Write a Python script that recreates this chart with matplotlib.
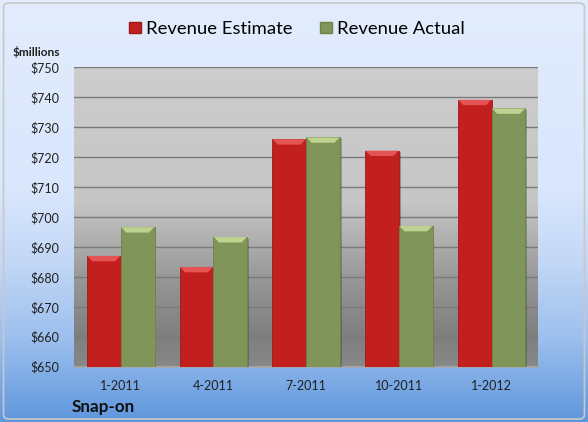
import numpy as np
import matplotlib
matplotlib.use('Agg')
import matplotlib.pyplot as plt
from matplotlib.colors import LinearSegmentedColormap
from matplotlib.patches import Polygon, FancyBboxPatch
import matplotlib.patheffects as pe

# data
quarters = ['1-2011', '4-2011', '7-2011', '10-2011', '1-2012']
estimate = [687.0, 683.3, 726.0, 722.2, 739.2]
actual = [696.6, 693.3, 726.6, 697.0, 736.3]
yticks = [650, 660, 670, 680, 690, 700, 710, 720, 730, 740, 750]

red = '#c21f1f'
red_top = '#ea5a5a'
green = '#80955a'
green_top = '#c6da96'

plt.rcParams['font.family'] = ['Lato', 'DejaVu Sans']

fig = plt.figure(figsize=(5.88, 4.22), dpi=100)
fig.patch.set_facecolor('white')

# background gradient of the chart area
bg = fig.add_axes([0, 0, 1, 1], zorder=-10)
bg.set_axis_off()
bg_cmap = LinearSegmentedColormap.from_list('bg', [
    (0.0, '#e2ecfd'), (0.45, '#d9e6fc'), (0.62, '#c3d8f6'),
    (0.8, '#9dc0ee'), (1.0, '#5f97dd')])
grad = np.linspace(0, 1, 256).reshape(-1, 1)
bg.imshow(grad, aspect='auto', cmap=bg_cmap, extent=[0, 1, 0, 1],
          origin='upper', transform=bg.transAxes)
bg.add_patch(FancyBboxPatch((0.006, 0.007), 0.988, 0.986,
                            boxstyle='round,pad=0,rounding_size=0.01',
                            fill=False, ec='#c8c8c8', lw=1.2,
                            transform=bg.transAxes))
bg.set_xlim(0, 1)
bg.set_ylim(0, 1)

# plot area
ax = fig.add_axes([74.3 / 588, 1 - 366.6 / 422, (538 - 74.3) / 588,
                   (366.6 - 67.4) / 422])
ax.set_xlim(-0.5, len(quarters) - 0.5)
ax.set_ylim(650, 750)
pa_cmap = LinearSegmentedColormap.from_list('pa', [
    (0.0, '#cdcdcd'), (0.45, '#c6c6c6'), (0.72, '#959595'),
    (0.9, '#7f7f7f'), (1.0, '#888888')])
ax.imshow(grad, aspect='auto', cmap=pa_cmap, extent=[0, 1, 0, 1],
          origin='upper', transform=ax.transAxes, zorder=0)

for t in yticks:
    ax.axhline(t, color='#7a7a7a', lw=1.0, zorder=1)

x = np.arange(len(quarters))
w = 0.365
shadow = [pe.SimplePatchShadow(offset=(1.2, -1.2), alpha=0.3), pe.Normal()]
b1 = ax.bar(x - w / 2, [v - 650 for v in estimate], w, bottom=650,
            color=red, ec='#a01818', lw=0.6, zorder=3, path_effects=shadow)
b2 = ax.bar(x + w / 2, [v - 650 for v in actual], w, bottom=650,
            color=green, ec='#6f8248', lw=0.6, zorder=3, path_effects=shadow)

# bevel highlight on top of each bar
bev_h = 1.8
bev_in = 0.06
for bars, top_col in ((b1, red_top), (b2, green_top)):
    for r in bars:
        x0 = r.get_x()
        x1 = x0 + r.get_width()
        y1 = r.get_y() + r.get_height()
        ax.add_patch(Polygon([(x0 + 0.004, y1), (x1 - 0.004, y1),
                              (x1 - bev_in, y1 - bev_h),
                              (x0 + bev_in, y1 - bev_h)],
                             closed=True, fc=top_col, ec='none',
                             alpha=0.9, zorder=4))

ax.set_xticks(x)
ax.set_xticklabels(quarters, fontsize=9, color='#202020')
ax.set_yticks(yticks)
ax.set_yticklabels(['$' + str(t) for t in yticks], fontsize=9,
                   color='#202020')
ax.tick_params(axis='both', length=0)
ax.tick_params(axis='y', pad=10.5)
ax.tick_params(axis='x', pad=10)
for s in ['top', 'right', 'left']:
    ax.spines[s].set_visible(False)
ax.spines['bottom'].set_color('#a8a8a8')
ax.spines['bottom'].set_linewidth(1.2)

fig.text(13 / 588, 1 - 51.5 / 422, '$millions', fontsize=8.6,
         fontweight='bold', color='#202020', va='center')
fig.text(72 / 588, 1 - 407 / 422, 'Snap-on', fontsize=12.3,
         fontweight='bold', color='#101010', va='center')

handles = [plt.Rectangle((0, 0), 1, 1, fc=red, ec='#a01818'),
           plt.Rectangle((0, 0), 1, 1, fc=green, ec='#6f8248')]
fig.legend(handles, ['Revenue Estimate', 'Revenue Actual'], ncol=2,
           loc='center', bbox_to_anchor=(297 / 588, 1 - 29 / 422),
           frameon=False, fontsize=13.3, handlelength=0.62,
           handleheight=0.62, handletextpad=0.28, columnspacing=1.5,
           borderpad=0, borderaxespad=0)

fig.savefig('out.png', dpi=100)
